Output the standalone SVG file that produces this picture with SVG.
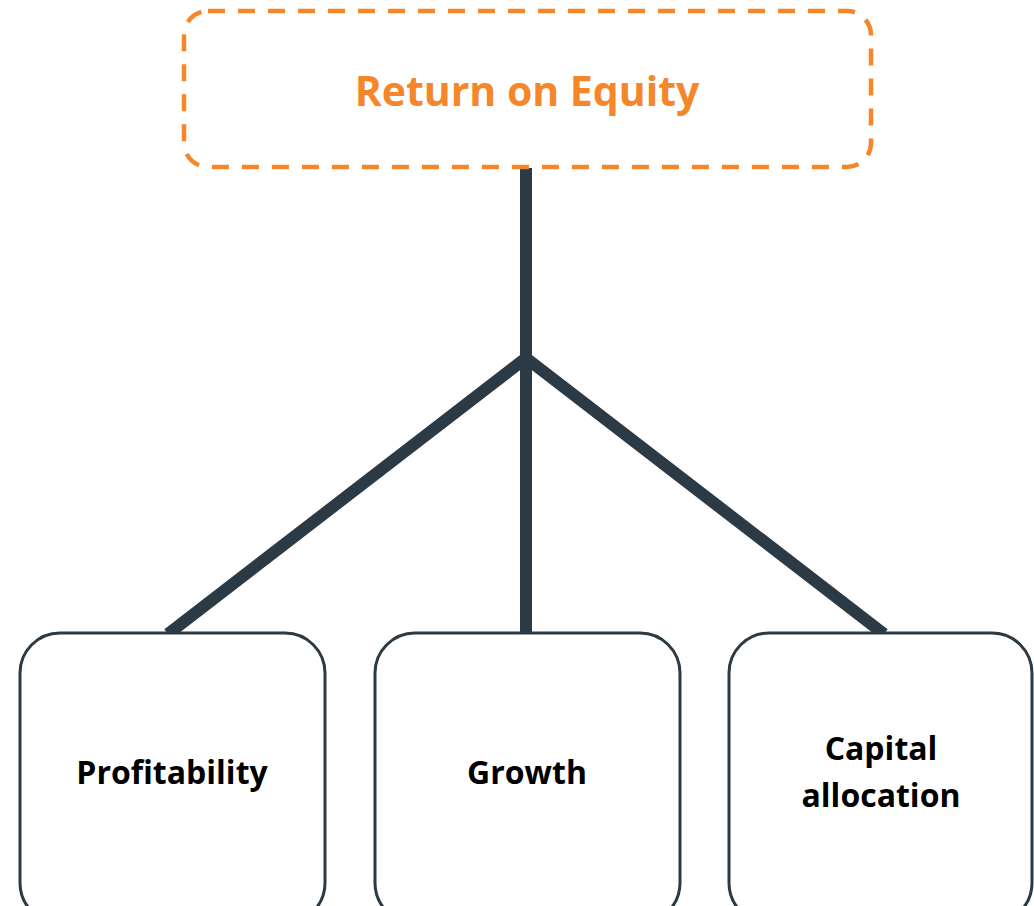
<svg xmlns="http://www.w3.org/2000/svg" width="1034" height="906" viewBox="0 0 1034 906">
<style>
.conn{stroke:#2b3a44;stroke-width:12;fill:none;stroke-linejoin:miter}
.box{fill:#ffffff;stroke:#2b3a44;stroke-width:3}
.lbl{font-family:"Open Sans","Liberation Sans",sans-serif;font-weight:bold;font-size:32px;fill:#000000;text-anchor:middle}
.title{font-family:"Open Sans","Liberation Sans",sans-serif;font-weight:bold;font-size:41px;fill:#f5862a;text-anchor:middle}
</style>
<rect width="1034" height="906" fill="#ffffff"/>
<g id="connectors">
<line class="conn" x1="526" y1="168" x2="526" y2="634"/>
<polyline class="conn" points="168,634 526,358 884,634"/>
</g>
<g id="roe">
<rect x="184" y="11" width="687" height="156" rx="24" ry="24" fill="#ffffff" stroke="#f5862a" stroke-width="4.5" stroke-dasharray="17,13"/>
<text class="title" x="527" y="106">Return on Equity</text>
</g>
<g id="profitability">
<rect class="box" x="20" y="633" width="305" height="290" rx="40" ry="40"/>
<text class="lbl" x="172" y="784">Profitability</text>
</g>
<g id="growth">
<rect class="box" x="375" y="633" width="305" height="290" rx="40" ry="40"/>
<text class="lbl" x="527" y="784">Growth</text>
</g>
<g id="capital">
<rect class="box" x="729" y="633" width="303" height="290" rx="40" ry="40"/>
<text class="lbl" x="881" y="760">Capital</text>
<text class="lbl" x="881" y="807">allocation</text>
</g>
</svg>
